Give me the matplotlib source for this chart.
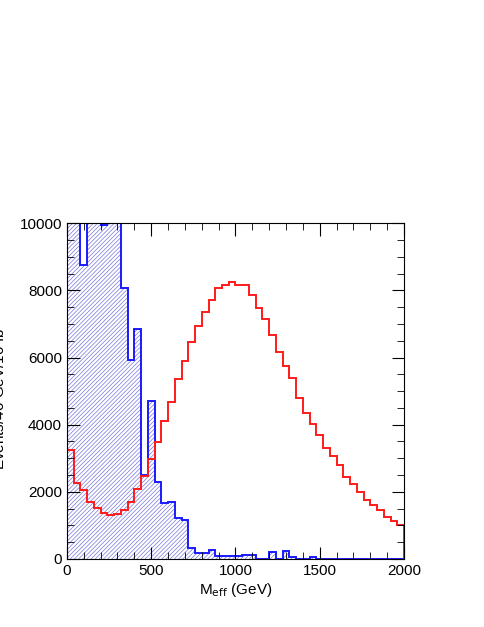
import numpy as np
import matplotlib
matplotlib.use("Agg")
import matplotlib.pyplot as plt
from matplotlib.ticker import MultipleLocator

plt.rcParams['font.family'] = ['Liberation Sans', 'DejaVu Sans']
plt.rcParams['hatch.linewidth'] = 0.5

bin_edges = np.arange(0, 2001, 40)
background = [12000, 12000, 8750, 12000, 12000, 9950, 12000, 12000, 8070, 5940,
              6840, 2500, 4710, 2300, 1660, 1690, 1230, 1160, 320, 190,
              180, 280, 100, 80, 80, 100, 110, 110, 0, 0,
              200, 0, 240, 50, 0, 0, 50, 0, 0, 0,
              0, 0, 0, 0, 0, 0, 0, 0, 0, 0]
signal = [3240, 2250, 2050, 1700, 1530, 1360, 1310, 1340, 1460, 1700,
          2070, 2470, 2980, 3470, 4120, 4680, 5360, 5900, 6470, 6930,
          7360, 7710, 8060, 8150, 8250, 8150, 8150, 7860, 7480, 7140,
          6670, 6170, 5750, 5380, 4800, 4340, 4020, 3690, 3310, 3070,
          2800, 2450, 2220, 1980, 1760, 1610, 1460, 1260, 1140, 1010]

fig = plt.figure(figsize=(4.85, 6.27), dpi=100)
ax = fig.add_axes([0.138, 0.1085, 0.695, 0.5355])

ax.stairs(background, bin_edges, fill=True, facecolor='none', edgecolor='#7777dd',
          hatch='////////', linewidth=0)
ax.stairs(background, bin_edges, color='#1a1aff', linewidth=1.4)
ax.stairs(signal, bin_edges, color='#ff1a1a', linewidth=1.4)

ax.set_xlim(0, 2000)
ax.set_ylim(0, 10000)
ax.xaxis.set_major_locator(MultipleLocator(500))
ax.xaxis.set_minor_locator(MultipleLocator(100))
ax.yaxis.set_major_locator(MultipleLocator(2000))
ax.yaxis.set_minor_locator(MultipleLocator(500))
ax.tick_params(which='both', direction='in', top=True, right=True, labelsize=11)
ax.tick_params(which='major', length=9)
ax.tick_params(which='minor', length=5)
ax.set_xlabel(r'M$_{\rm eff}$ (GeV)', fontsize=11, labelpad=2)
ax.yaxis.set_label_coords(-0.175, 0.65)
ax.set_ylabel(r'Events/40 GeV/10 fb$^{-1}$', fontsize=11)

fig.savefig('out.png', dpi=100)
